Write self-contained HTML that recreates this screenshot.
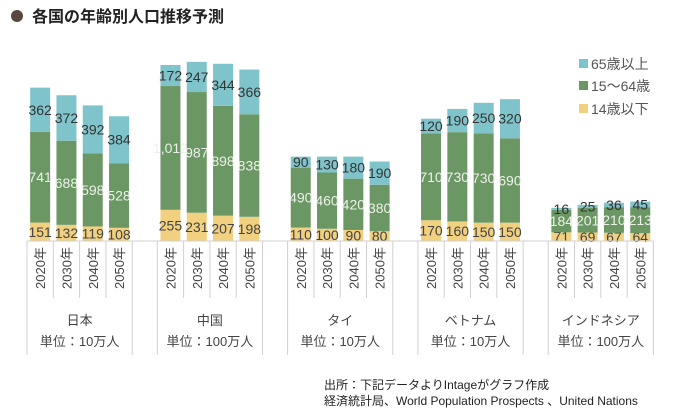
<!DOCTYPE html>
<html><head><meta charset="utf-8">
<style>
body{margin:0;background:#fff;width:700px;height:416px;overflow:hidden;font-family:"Liberation Sans","Noto Sans CJK JP",sans-serif;}
svg{display:block}
</style></head>
<body>
<svg id="chart" width="700" height="416" xmlns="http://www.w3.org/2000/svg" font-family="Liberation Sans, Noto Sans CJK JP, sans-serif">
  <circle cx="17" cy="16" r="6" fill="#5a4740"/>
  <text x="32" y="22" font-size="16" font-weight="bold" fill="#222">各国の年齢別人口推移予測</text>
  <g font-size="14" fill="#555">
    <rect x="579" y="59" width="9" height="9" fill="#80c4cb"/>
    <text x="591" y="69" fill="#555">65歳以上</text>
    <rect x="579" y="81" width="9" height="9" fill="#6b9764"/>
    <text x="591" y="91" fill="#555">15～64歳</text>
    <rect x="579" y="104" width="9" height="9" fill="#f1d07f"/>
    <text x="591" y="114" fill="#555">14歳以下</text>
  </g>
  <g id="bars"></g>
  <g id="axis"></g>
  <text x="324" y="389" font-size="12" fill="#222">出所：下記データよりIntageがグラフ作成</text>
  <text x="324" y="405" font-size="12" fill="#222">経済統計局、World Population Prospects 、United Nations</text>
</svg>
<script>
const countries = ["日本","中国","タイ","ベトナム","インドネシア"];
const units = ["単位：10万人","単位：100万人","単位：10万人","単位：10万人","単位：100万人"];
const years = ["2020年","2030年","2040年","2050年"];
const under14 = [[151,132,119,108],[255,231,207,198],[110,100,90,80],[170,160,150,150],[71,69,67,64]];
const working = [[741,688,598,528],[1012,987,898,838],[490,460,420,380],[710,730,730,690],[184,201,210,213]];
const over65 = [[362,372,392,384],[172,247,344,366],[90,130,180,190],[120,190,250,320],[16,25,36,45]];

const NS="http://www.w3.org/2000/svg";
const base=241, scale=0.1223, groupStart=27, groupStep=130.3, slotW=26.3, barW=20;
const yS=v=>v*scale;
const xSlot=(g,i)=>groupStart+g*groupStep+i*slotW;
const barsG=document.getElementById('bars'), axisG=document.getElementById('axis');
function mk(tag,attrs,parent){const e=document.createElementNS(NS,tag);for(const k in attrs)e.setAttribute(k,attrs[k]);parent.appendChild(e);return e;}
const fmt=v=>v>=1000?v.toLocaleString('en-US'):String(v);
const series=[{d:under14,c:"#f1d07f",t:"#444",n:"under14"},{d:working,c:"#6b9764",t:"#eef0ea",n:"working"},{d:over65,c:"#80c4cb",t:"#333",n:"over65"}];
countries.forEach((cn,g)=>{
  years.forEach((yr,i)=>{
    let y=base;
    const x=xSlot(g,i)+(slotW-barW)/2;
    series.forEach(s=>{
      const v=s.d[g][i], h=yS(v);
      y-=h;
      const r=mk('rect',{x:x,y:y,width:barW,height:h,fill:s.c},barsG);
      
      
      const t=mk('text',{x:x+barW/2,y:y+h/2+5,'text-anchor':'middle','font-size':14,fill:s.t},barsG);
      
      
      t.textContent=fmt(s.d[g][i]);
    });
    const yl=mk('text',{transform:`translate(${xSlot(g,i)+slotW/2+5},268) rotate(-90)`,'text-anchor':'middle','font-size':13,fill:'#444'},axisG);
    
    
    yl.textContent=yr;
    if(i>0){const l=mk('line',{x1:xSlot(g,i),x2:xSlot(g,i),y1:base,y2:298,stroke:'#d0d0d0'},axisG);
      
      }
  });
  const gs=xSlot(g,0), ge=xSlot(g,4);
  [gs,ge].forEach(xx=>{const l=mk('line',{x1:xx,x2:xx,y1:base,y2:355,stroke:'#d0d0d0'},axisG);
    
    });
  const c=mk('text',{x:(gs+ge)/2,y:325,'text-anchor':'middle','font-size':13,fill:'#444'},axisG);
  
  
  c.textContent=cn;
  const u=mk('text',{x:(gs+ge)/2,y:346,'text-anchor':'middle','font-size':13,fill:'#444'},axisG);
  
  
  u.textContent=units[g];
});
const ax=mk('line',{x1:groupStart,x2:xSlot(4,4),y1:base,y2:base,stroke:'#d0d0d0'},axisG);


</script>
</body></html>
